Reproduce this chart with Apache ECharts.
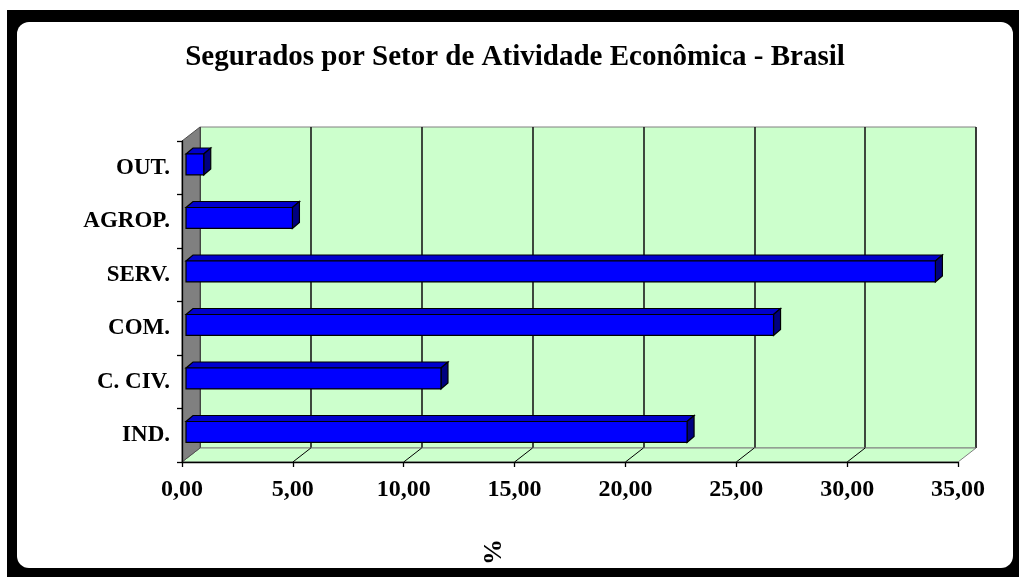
<!DOCTYPE html>
<html>
<head>
<meta charset="utf-8">
<script src="https://cdn.jsdelivr.net/npm/echarts@6/dist/echarts.min.js"></script>
<style>
html,body{margin:0;padding:0;background:#fff;}
#c{width:1019px;height:577px;}
</style>
</head>
<body>
<div id="c"></div>
<script>
const categories = ['IND.', 'C. CIV.', 'COM.', 'SERV.', 'AGROP.', 'OUT.'];
const values = [22.6, 11.5, 26.5, 33.8, 4.8, 0.8];
const axisMin = 0, axisMax = 35, axisStep = 5;
const titleText = 'Segurados por Setor de Atividade Econômica - Brasil';
const axisName = '%';

const FONT = '"Liberation Serif", "Times New Roman", serif';
const FRONT = {left: 182, top: 141, width: 776, height: 321};
const DX = 18, DY = -14;
const BACK = {left: FRONT.left + DX, top: FRONT.top + DY, width: FRONT.width, height: FRONT.height};

const chart = echarts.init(document.getElementById('c'), null, {renderer: 'canvas'});

function fmt(v) { return v.toFixed(2).replace('.', ','); }

const option = {
  animation: false,
  backgroundColor: '#ffffff',
  grid: [
    {left: BACK.left, top: BACK.top, width: BACK.width, height: BACK.height,
     show: true, backgroundColor: '#CCFFCC', borderColor: '#808080', borderWidth: 1, z: 1},
    {left: FRONT.left, top: FRONT.top, width: FRONT.width, height: FRONT.height, z: 3}
  ],
  xAxis: [
    {type: 'value', gridIndex: 0, min: axisMin, max: axisMax, interval: axisStep,
     axisLine: {show: false}, axisTick: {show: false}, axisLabel: {show: false},
     splitLine: {show: true, lineStyle: {color: '#1a1a1a', width: 1.6}}, z: 1},
    {type: 'value', gridIndex: 1, min: axisMin, max: axisMax, interval: axisStep,
     axisLine: {show: true, lineStyle: {color: '#000', width: 1.3}},
     axisTick: {show: true, length: 5, inside: false, lineStyle: {color: '#000', width: 1.3}},
     splitLine: {show: false},
     axisLabel: {show: true, formatter: fmt, margin: 16, color: '#000',
                 fontFamily: FONT, fontWeight: 'bold', fontSize: 24}, z: 3}
  ],
  yAxis: [
    {type: 'category', gridIndex: 0, data: categories, show: false},
    {type: 'category', gridIndex: 1, data: categories,
     axisLine: {show: true, lineStyle: {color: '#000', width: 1.3}},
     axisTick: {show: true, length: 5, inside: false, lineStyle: {color: '#000', width: 1.3}},
     splitLine: {show: false},
     axisLabel: {show: true, margin: 12, color: '#000',
                 fontFamily: FONT, fontWeight: 'bold', fontSize: 23}, z: 3}
  ],
  series: [{
    type: 'custom',
    xAxisIndex: 1, yAxisIndex: 1,
    clip: false,
    z: 5,
    encode: {x: 0, y: 1},
    data: values.map((v, i) => [v, i]),
    renderItem: function (params, api) {
      const c = api.value(1), v = api.value(0);
      const p0 = api.coord([0, c]);
      const p1 = api.coord([v, c]);
      const band = api.size([0, 1])[1];
      const h = band * 0.39;
      const ox = 4, oy = -3.3, dx = 7, dy = -6;
      const x0 = p0[0] + ox, x1 = p1[0] + ox;
      const yt = p0[1] + oy - h / 2, yb = yt + h;
      const st = {stroke: '#000', lineWidth: 1.2};
      return {type: 'group', children: [
        {type: 'polygon', shape: {points: [[x0, yt], [x1, yt], [x1 + dx, yt + dy], [x0 + dx, yt + dy]]},
         style: Object.assign({fill: '#0000CC'}, st)},
        {type: 'polygon', shape: {points: [[x1, yt], [x1 + dx, yt + dy], [x1 + dx, yb + dy], [x1, yb]]},
         style: Object.assign({fill: '#000080'}, st)},
        {type: 'rect', shape: {x: x0, y: yt, width: x1 - x0, height: h},
         style: Object.assign({fill: '#0000FF'}, st)}
      ]};
    }
  }]
};
chart.setOption(option);

// decorations computed from the axes
const fx0 = chart.convertToPixel({xAxisIndex: 1}, axisMin);
const fx1 = chart.convertToPixel({xAxisIndex: 1}, axisMax);
const fyB = FRONT.top + FRONT.height, fyT = FRONT.top;
const graphics = [
  {type: 'rect', z: -10, silent: true, shape: {x: 7, y: 10, width: 1012, height: 567}, style: {fill: '#000'}},
  {type: 'rect', z: -9, silent: true, shape: {x: 17, y: 22, width: 996, height: 546, r: 12}, style: {fill: '#fff'}},
  {type: 'polygon', z: 2, silent: true,
   shape: {points: [[fx0, fyB], [fx1, fyB], [fx1 + DX, fyB + DY], [fx0 + DX, fyB + DY]]},
   style: {fill: '#CCFFCC', stroke: '#808080', lineWidth: 1}},
  {type: 'polygon', z: 2, silent: true,
   shape: {points: [[fx0, fyT], [fx0 + DX, fyT + DY], [fx0 + DX, fyB + DY], [fx0, fyB]]},
   style: {fill: '#808080', stroke: '#505050', lineWidth: 1}},
  {type: 'text', z: 10, x: 515, y: 58,
   style: {text: titleText, font: 'bold 29px ' + FONT, fill: '#000', textAlign: 'center', textVerticalAlign: 'middle'}},
  {type: 'text', z: 10, x: 494, y: 552, rotation: Math.PI / 2,
   style: {text: axisName, font: 'bold 26px ' + FONT, fill: '#000', textAlign: 'center', textVerticalAlign: 'middle'}}
];
for (let v = axisMin + axisStep; v < axisMax; v += axisStep) {
  const x = chart.convertToPixel({xAxisIndex: 1}, v);
  graphics.push({type: 'line', z: 2, silent: true,
    shape: {x1: x, y1: fyB, x2: x + DX, y2: fyB + DY},
    style: {stroke: '#000', lineWidth: 1}});
}
chart.setOption({graphic: graphics});
</script>
</body>
</html>
